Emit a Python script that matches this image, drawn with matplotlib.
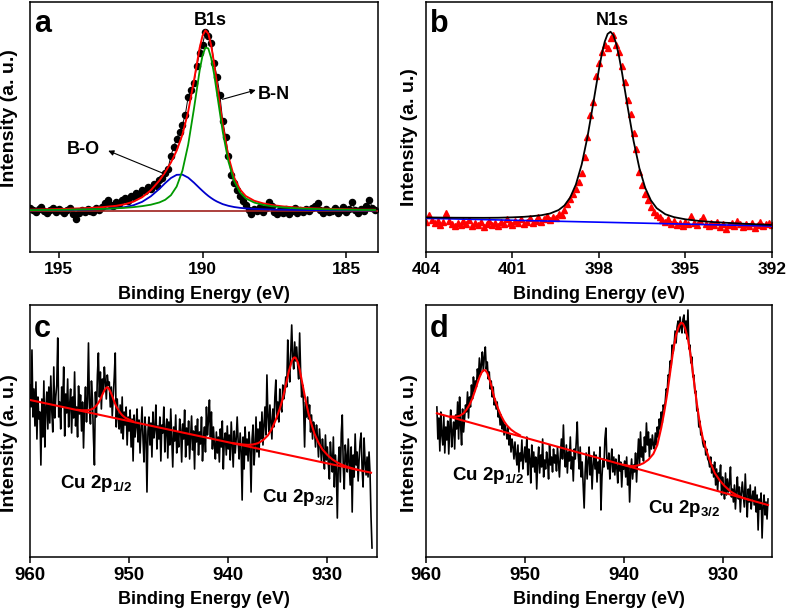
import numpy as np
import matplotlib
matplotlib.use("Agg")
import matplotlib.pyplot as plt

plt.rcParams["font.family"] = ["Liberation Sans", "DejaVu Sans"]
plt.rcParams["font.weight"] = "bold"
plt.rcParams["axes.labelweight"] = "bold"
plt.rcParams["mathtext.fontset"] = "custom"
plt.rcParams["mathtext.rm"] = "Liberation Sans:bold"
plt.rcParams["mathtext.bf"] = "Liberation Sans:bold"

# ---------------- panel a: B1s (heights above baseline, a.u.) ----------------
b1s_energy = np.round(np.arange(196.0, 183.95, -0.1), 1)
b1s_counts = [
    3, 1, -1, 2, 4, 0, -2, 1, 3, -1,
    2, 0, -2, 1, 3, -3, -8, -2, 1, -1,
    2, 0, -1, 3, 1, 4, 8, 11, 6, 5,
    9, 7, 11, 13, 10, 15, 14, 18, 17, 21,
    20, 24, 22, 27, 25, 31, 33, 38, 42, 55,
    64, 72, 79, 86, 96, 114, 121, 128, 145, 158,
    166, 179, 175, 168, 148, 134, 116, 90, 74, 55,
    36, 28, 21, 15, 10, 6, 1, -3, 2, 0,
    4, -1, 3, 9, 5, -1, -3, 1, -2, 2,
    -3, 0, 3, -2, 1, -1, 2, 0, 3, 5,
    8, 1, -2, 2, -1, 0, 3, -2, 1, 4,
    -1, 2, 9, 1, -2, 2, 0, 5, 11, 3,
    1,
]
b1s_fit_energy = [196, 195, 194, 193.5, 193, 192.7, 192.4, 192.1, 191.8, 191.5,
                  191.3, 191.1, 190.9, 190.7, 190.5, 190.3, 190.1, 190.0, 189.9, 189.8,
                  189.7, 189.6, 189.5, 189.3, 189.1, 188.9, 188.7, 188.5, 188.2, 187.9,
                  187.6, 187.2, 186.8, 186.3, 185.5, 184.5, 184.0]
b1s_bn = [0.6, 0.9, 1.4, 1.8, 2.4, 2.9, 3.6, 4.6, 6.0, 8.3,
          10.9, 15.5, 24.2, 40.0, 66.0, 101.8, 140.4, 155.3, 163.2, 162.3,
          152.7, 136.8, 117.7, 79.3, 49.2, 29.5, 18.4, 12.4, 8.1, 5.9,
          4.5, 3.3, 2.5, 1.9, 1.3, 0.8, 0.7]
b1s_bo = [0.5, 0.7, 1.2, 1.7, 2.5, 3.6, 5.5, 8.9, 14.4, 21.9,
          27.6, 32.7, 35.9, 36.1, 33.1, 28.1, 22.5, 19.8, 17.2, 14.8,
          12.7, 10.8, 9.2, 6.6, 4.9, 3.7, 2.9, 2.3, 1.8, 1.5,
          1.2, 1.0, 0.8, 0.6, 0.5, 0.3, 0.3]
b1s_base_energy = [196.0, 183.9]
b1s_base = [0.0, 0.0]
b1s_env = np.array(b1s_bn) + np.array(b1s_bo)

# ---------------- panel b: N1s ----------------
n1s_energy = np.round(np.arange(404.0, 391.95, -0.1), 1)
n1s_counts = [
    30, 37, 32, 29, 31, 27, 30, 39, 31, 28,
    26, 29, 27, 31, 28, 32, 26, 29, 27, 30,
    25, 28, 31, 27, 29, 26, 30, 28, 33, 29,
    27, 31, 29, 33, 28, 30, 34, 29, 31, 35,
    30, 33, 36, 32, 35, 34, 38, 37, 42, 48,
    53, 58, 63, 70, 79, 95, 115, 137, 150, 176,
    189, 200, 207, 204, 214, 217, 207, 200, 186, 170,
    152, 138, 119, 103, 80, 67, 58, 52, 45, 40,
    37, 35, 32, 30, 33, 28, 31, 27, 29, 26,
    30, 28, 36, 29, 27, 31, 35, 28, 26, 29,
    27, 30, 25, 28, 23, 27, 29, 26, 31, 28,
    25, 28, 26, 29, 24, 27, 30, 26, 28, 29,
    27,
]
n1s_fit_energy = [404, 403, 402, 401.5, 401, 400.6, 400.3, 400.0, 399.7, 399.4,
                  399.2, 399.0, 398.8, 398.6, 398.4, 398.2, 398.0, 397.9, 397.8, 397.7,
                  397.6, 397.5, 397.4, 397.3, 397.2, 397.0, 396.8, 396.6, 396.4, 396.2,
                  396.0, 395.7, 395.4, 395.0, 394.5, 394, 393, 392]
n1s_fit = [34.6, 34.3, 34.2, 34.3, 34.7, 35.2, 35.9, 36.8, 38.5, 42.0,
           46.5, 54.5, 67.6, 87.5, 115.0, 148.5, 183.1, 198.3, 210.4, 218.1,
           220.3, 216.8, 208.0, 195.0, 179.2, 144.2, 111.0, 84.0, 64.4, 51.7,
           43.9, 37.8, 34.9, 32.7, 31.0, 29.9, 28.3, 27.1]
n1s_base_energy = [404.0, 392.0]
n1s_base = [33.7, 26.0]

# ---------------- panel c: Cu 2p ----------------
cu_c_energy = np.round(np.arange(960.0, 925.45, -0.1), 1)
cu_c_counts = [
    172, 150, 207, 140, 168, 131, 175, 118, 160, 138,
    145, 92, 158, 120, 176, 110, 149, 165, 128, 170,
    134, 181, 146, 125, 190, 139, 160, 172, 219, 140,
    155, 128, 170, 150, 190, 121, 163, 144, 178, 130,
    152, 168, 124, 160, 139, 185, 131, 150, 120, 171,
    143, 162, 126, 155, 109, 148, 170, 135, 158, 214,
    150, 133, 176, 158, 120, 92, 165, 140, 182, 204,
    160, 185, 148, 178, 165, 190, 175, 158, 182, 172,
    175, 150, 170, 141, 162, 180, 204, 130, 158, 140,
    128, 152, 124, 160, 118, 145, 132, 150, 112, 140,
    126, 147, 110, 138, 96, 142, 120, 131, 148, 115,
    137, 104, 128, 150, 118, 95, 140, 122, 65, 126,
    140, 112, 134, 100, 145, 119, 128, 152, 108, 131,
    118, 140, 96, 132, 124, 150, 105, 127, 138, 99,
    135, 112, 148, 120, 90, 130, 116, 142, 104, 125,
    110, 138, 127, 95, 133, 118, 147, 100, 129, 112,
    136, 98, 120, 141, 107, 126, 88, 131, 115, 138,
    102, 125, 113, 140, 96, 118, 130, 105, 150, 122,
    137, 157, 120, 145, 108, 130, 112, 98, 125, 104,
    120, 95, 128, 110, 136, 88, 117, 124, 102, 131,
    108, 122, 97, 135, 112, 90, 126, 104, 118, 140,
    115, 98, 124, 106, 57, 120, 88, 130, 102, 118,
    96, 125, 108, 65, 118, 132, 92, 110, 140, 105,
    128, 100, 135, 118, 145, 112, 130, 150, 122, 182,
    140, 125, 152, 135, 118, 148, 130, 160, 177, 138,
    155, 135, 168, 150, 145, 172, 158, 165, 180, 170,
    217, 190, 175, 205, 232, 200, 188, 215, 196, 210,
    192, 178, 224, 185, 160, 172, 150, 110, 155, 140,
    160, 138, 152, 125, 142, 118, 135, 128, 110, 132,
    120, 100, 128, 112, 95, 118, 105, 88, 122, 97,
    110, 92, 78, 115, 98, 85, 120, 70, 102, 88,
    39, 95, 110, 75, 124, 142, 90, 68, 112, 100,
    85, 118, 96, 72, 110, 45, 102, 80, 123, 92,
    105, 76, 98, 115, 124, 88, 70, 119, 95, 82,
    100, 80, 105, 84, 40, 9,
]
cu_c_fit1_energy = [955.2, 954.8, 954.4, 954.2, 953.9, 953.7, 953.5, 953.3, 953.1, 952.9,
                    952.7, 952.5, 952.3, 952.2, 952.1, 951.9, 951.7, 951.5, 951.3, 951.1,
                    950.9, 950.7, 950.4, 950.0, 949.6]
cu_c_fit1 = [147.2, 146.7, 146.7, 146.7, 147.3, 148.1, 149.4, 151.6, 154.1, 157.8,
             162.3, 166.6, 169.3, 169.7, 169.2, 165.6, 160.8, 155.4, 150.6, 147.3,
             144.2, 141.8, 139.3, 137.4, 135.7]
cu_c_fit2_energy = [939.5, 939.0, 938.5, 938.0, 937.5, 937.0, 936.5, 936.0, 935.6, 935.2,
                    934.8, 934.5, 934.2, 933.9, 933.6, 933.4, 933.3, 933.2, 933.0, 932.8,
                    932.5, 932.2, 931.9, 931.6, 931.3, 930.9, 930.5, 930.0, 929.5, 929.0,
                    928.5, 928.0, 927.5, 927.0]
cu_c_fit2 = [113.7, 113.1, 112.5, 112.1, 112.5, 113.8, 116.7, 121.6, 128.2, 137.3,
             148.4, 158.5, 171.8, 185.1, 195.7, 199.2, 199.6, 199.1, 195.0, 187.6,
             172.2, 156.7, 143.1, 132.6, 123.1, 114.3, 107.6, 102.0, 97.6, 94.5,
             92.1, 90.3, 88.7, 87.3]
cu_c_base_energy = [960.0, 925.6]
cu_c_base = [157.0, 84.3]

# ---------------- panel d: Cu 2p ----------------
cu_d_energy = np.round(np.arange(958.9, 925.35, -0.1), 1)
cu_d_counts = [
    150, 118, 139, 106, 145, 122, 112, 141, 104, 130,
    117, 136, 103, 128, 147, 110, 125, 135, 108, 142,
    128, 155, 118, 160, 132, 112, 148, 125, 138, 152,
    145, 165, 139, 160, 150, 172, 158, 180, 165, 176,
    170, 188, 178, 199, 182, 192, 205, 186, 200, 210,
    188, 195, 178, 185, 168, 176, 160, 170, 152, 158,
    148, 155, 140, 146, 132, 142, 128, 137, 122, 133,
    126, 118, 130, 112, 122, 105, 118, 110, 98, 115,
    102, 92, 112, 85, 104, 96, 117, 88, 100, 110,
    95, 120, 82, 108, 98, 74, 112, 90, 105, 85,
    100, 68, 95, 110, 84, 102, 90, 118, 80, 97,
    88, 105, 96, 78, 112, 92, 100, 85, 108, 94,
    102, 86, 110, 95, 80, 104, 118, 98, 132, 100,
    90, 112, 84, 105, 96, 120, 88, 100, 76, 108,
    98, 115, 135, 102, 88, 110, 80, 95, 72, 49,
    85, 104, 78, 96, 110, 82, 100, 68, 92, 105,
    88, 102, 75, 95, 84, 110, 47, 80, 98, 90,
    118, 129, 96, 88, 104, 78, 95, 108, 85, 100,
    82, 98, 90, 74, 102, 86, 95, 70, 92, 88,
    96, 80, 100, 72, 90, 55, 84, 98, 78, 92,
    85, 104, 75, 98, 118, 92, 125, 100, 110, 96,
    120, 105, 134, 112, 125, 100, 118, 108, 122, 112,
    108, 124, 112, 130, 120, 138, 128, 145, 134, 152,
    148, 155, 168, 165, 182, 180, 196, 190, 212, 204,
    212, 226, 214, 230, 236, 225, 240, 229, 224, 238,
    242, 224, 236, 218, 247, 208, 212, 194, 200, 180,
    182, 164, 166, 146, 148, 130, 136, 122, 124, 114,
    110, 116, 102, 108, 98, 96, 90, 100, 84, 92,
    80, 95, 72, 88, 66, 84, 78, 92, 62, 80,
    70, 58, 84, 62, 78, 65, 74, 90, 60, 68,
    55, 72, 48, 66, 80, 58, 70, 45, 64, 75,
    62, 50, 83, 58, 40, 68, 55, 72, 48, 60,
    66, 52, 70, 45, 62, 27, 58, 48, 64, 19,
    50, 62, 42, 55, 38, 58,
]
cu_d_fit1_energy = [957.5, 957.0, 956.6, 956.2, 955.9, 955.6, 955.3, 955.0, 954.8, 954.6,
                    954.4, 954.2, 954.0, 953.8, 953.6, 953.4, 953.2, 953.0, 952.7, 952.4,
                    952.1, 951.8, 951.4, 951.0, 950.5]
cu_d_fit1 = [140.6, 140.3, 141.1, 143.7, 147.4, 152.2, 158.8, 167.5, 173.8, 179.4,
             184.0, 186.6, 186.8, 184.0, 178.4, 171.7, 163.2, 156.4, 148.2, 141.2,
             135.6, 131.4, 127.4, 124.5, 121.8]
cu_d_fit2_energy = [940.0, 939.5, 939.0, 938.5, 938.0, 937.5, 937.0, 936.6, 936.2, 935.9,
                    935.6, 935.3, 935.0, 934.7, 934.4, 934.2, 934.0, 933.8, 933.5, 933.2,
                    932.9, 932.6, 932.3, 932.0, 931.6, 931.2, 930.8, 930.3, 929.8, 929.2,
                    928.6, 928.0, 927.4]
cu_d_fit2 = [92.2, 91.2, 90.8, 91.7, 93.8, 97.3, 103.1, 112.0, 129.2, 144.9,
             163.1, 184.5, 205.9, 222.2, 231.3, 234.3, 233.4, 229.2, 218.0, 199.6,
             176.3, 153.5, 133.8, 118.9, 105.6, 93.9, 84.2, 76.8, 71.1, 65.6,
             62.1, 59.4, 57.5]
cu_d_base_energy = [958.9, 925.4]
cu_d_base = [143.7, 52.0]

fig = plt.figure(figsize=(7.87, 6.15), dpi=100)
ax_a = fig.add_axes([0.0381, 0.5902, 0.4422, 0.4065])
ax_b = fig.add_axes([0.5413, 0.5902, 0.4396, 0.4065])
ax_c = fig.add_axes([0.0381, 0.0943, 0.4409, 0.4098])
ax_d = fig.add_axes([0.5413, 0.0943, 0.4396, 0.4098])


def style(ax, ticks, lsize, label_x, label_y, letter, letter_y):
    for s in ax.spines.values():
        s.set_linewidth(1.1)
    ax.set_xticks(ticks)
    ax.set_yticks([])
    ax.tick_params(axis="x", direction="out", length=4, width=1.1, pad=3, labelsize=lsize)
    ax.set_xlabel("Binding Energy (eV)", fontsize=13)
    ax.set_ylabel("Intensity (a. u.)", fontsize=14)
    ax.xaxis.set_label_coords(0.5, -0.135)
    ax.yaxis.set_label_coords(label_x, label_y)
    ax.text(0.012, letter_y, letter, transform=ax.transAxes, fontsize=22,
            fontweight="bold", va="baseline", ha="left")


# panel a
ax_a.plot(b1s_energy, b1s_counts, "-", color="black", lw=0.7, zorder=2)
ax_a.plot(b1s_energy, b1s_counts, "o", color="black", ms=4.4, zorder=2)
ax_a.plot(b1s_base_energy, b1s_base, color="#a0201c", lw=1.2, zorder=3)
ax_a.plot(b1s_fit_energy, b1s_env, color="#ff0000", lw=1.4, zorder=4)
ax_a.plot(b1s_fit_energy, b1s_bo, color="#0000cc", lw=1.3, zorder=5)
ax_a.plot(b1s_fit_energy, b1s_bn, color="#009900", lw=1.3, zorder=6)
ax_a.set_xlim(196.0, 183.9)
ax_a.set_ylim(-41.3, 208.7)
style(ax_a, [195, 190, 185], 12.5, -0.034, 0.535, "a", 0.881)
ax_a.text(189.74, 190.7, "B1s", fontsize=13, ha="center", va="center")
ax_a.text(188.07, 116.7, "B-N", fontsize=13, ha="left", va="center")
ax_a.text(194.15, 61.7, "B-O", fontsize=13, ha="center", va="center")
arrow = dict(arrowstyle="-|>", lw=0.8, color="black", mutation_scale=8, shrinkA=0, shrinkB=0)
ax_a.annotate("", xy=(188.15, 120.7), xytext=(189.31, 111.4), arrowprops=arrow, zorder=7)
ax_a.annotate("", xy=(193.28, 60.0), xytext=(191.37, 37.4), arrowprops=arrow, zorder=7)

# panel b
ax_b.plot(n1s_energy, n1s_counts, "^", color="#ff0000", ms=4.5, mec="#ff0000", zorder=2)
ax_b.plot(n1s_base_energy, n1s_base, color="#0000ff", lw=1.2, zorder=3)
ax_b.plot(n1s_fit_energy, n1s_fit, color="black", lw=1.3, zorder=4)
ax_b.set_xlim(404, 392)
ax_b.set_ylim(0, 250)
style(ax_b, [404, 401, 398, 395, 392], 12.5, -0.023, 0.46, "b", 0.881)
ax_b.text(397.55, 232, "N1s", fontsize=13, ha="center", va="center")

# panel c
ax_c.plot(cu_c_energy, cu_c_counts, color="black", lw=1.2, zorder=2)
ax_c.plot(cu_c_base_energy, cu_c_base, color="#ff0000", lw=1.5, zorder=3)
ax_c.plot(cu_c_fit1_energy, cu_c_fit1, color="#ff0000", lw=1.5, zorder=3)
ax_c.plot(cu_c_fit2_energy, cu_c_fit2, color="#ff0000", lw=1.5, zorder=3)
ax_c.set_xlim(960, 925)
ax_c.set_ylim(0, 252)
style(ax_c, [960, 950, 940, 930], 13.5, -0.034, 0.451, "c", 0.874)
ax_c.text(956.97, 68.7, r"Cu 2p$_{\mathbf{1/2}}$", fontsize=13.5, ha="left", va="baseline")
ax_c.text(936.6, 55.3, r"Cu 2p$_{\mathbf{3/2}}$", fontsize=13.5, ha="left", va="baseline")

# panel d
ax_d.plot(cu_d_energy, cu_d_counts, color="black", lw=1.2, zorder=2)
ax_d.plot(cu_d_base_energy, cu_d_base, color="#ff0000", lw=1.5, zorder=3)
ax_d.plot(cu_d_fit1_energy, cu_d_fit1, color="#ff0000", lw=1.5, zorder=3)
ax_d.plot(cu_d_fit2_energy, cu_d_fit2, color="#ff0000", lw=1.5, zorder=3)
ax_d.set_xlim(960, 925)
ax_d.set_ylim(0, 252)
style(ax_d, [960, 950, 940, 930], 13.5, -0.023, 0.451, "d", 0.874)
ax_d.text(957.4, 77.0, r"Cu 2p$_{\mathbf{1/2}}$", fontsize=13.5, ha="left", va="baseline")
ax_d.text(937.5, 43.7, r"Cu 2p$_{\mathbf{3/2}}$", fontsize=13.5, ha="left", va="baseline")

fig.savefig("out.png", dpi=100)
